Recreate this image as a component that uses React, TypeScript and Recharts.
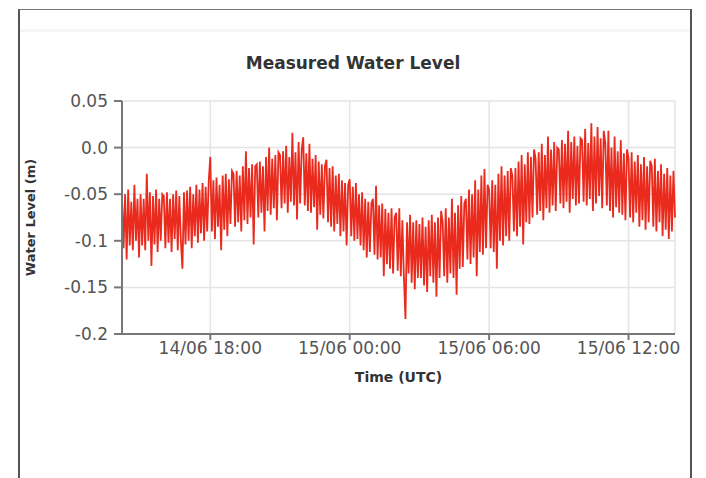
import { LineChart, Line, XAxis, YAxis, CartesianGrid } from 'recharts'

// hours since 14/06 00:00 UTC, one sample every 4 minutes
const startHour = 14.2
const stepHours = 1 / 15

const levels = [
  // 14:12 - 14:56
  -0.052, -0.108, -0.05, -0.12, -0.045, -0.105, -0.058, -0.11, -0.04, -0.1, -0.055, -0.118,
  // 15:00
  -0.05, -0.105, -0.055, -0.11, -0.028, -0.1, -0.048, -0.127, -0.052, -0.104, -0.045, -0.112, -0.055, -0.1, -0.05,
  // 16:00
  -0.052, -0.108, -0.048, -0.102, -0.055, -0.112, -0.05, -0.098, -0.046, -0.11, -0.052, -0.1, -0.13, -0.048, -0.104,
  // 17:00
  -0.046, -0.1, -0.042, -0.108, -0.05, -0.095, -0.04, -0.102, -0.045, -0.092, -0.038, -0.1, -0.042, -0.09, -0.036,
  // 18:00
  -0.01, -0.09, -0.035, -0.098, -0.032, -0.085, -0.04, -0.11, -0.03, -0.088, -0.028, -0.095, -0.034, -0.082, -0.025,
  // 19:00
  -0.028, -0.085, -0.025, -0.08, -0.03, -0.09, -0.02, -0.078, -0.004, -0.082, -0.022, -0.075, -0.018, -0.104, -0.02,
  // 20:00
  -0.018, -0.075, -0.015, -0.07, -0.02, -0.09, -0.01, -0.068, 0.0, -0.072, -0.012, -0.065, -0.008, -0.078, -0.005,
  // 21:00
  -0.008, -0.065, -0.004, -0.06, 0.002, -0.07, -0.01, -0.058, 0.016, -0.062, -0.005, -0.077, 0.006, -0.06, -0.002,
  // 22:00
  0.011, -0.062, -0.006, -0.068, 0.004, -0.07, -0.012, -0.064, -0.008, -0.088, -0.015, -0.072, -0.018, -0.076, -0.02,
  // 23:00
  -0.013, -0.08, -0.022, -0.085, -0.02, -0.09, -0.03, -0.082, -0.028, -0.095, -0.035, -0.09, -0.038, -0.105, -0.04,
  // 00:00
  -0.034, -0.095, -0.042, -0.1, -0.038, -0.098, -0.05, -0.105, -0.048, -0.11, -0.055, -0.118, -0.058, -0.112, -0.06,
  // 01:00
  -0.055, -0.115, -0.041, -0.12, -0.062, -0.118, -0.06, -0.138, -0.066, -0.125, -0.07, -0.13, -0.065, -0.135, -0.075,
  // 02:00
  -0.07, -0.132, -0.065, -0.138, -0.078, -0.14, -0.184, -0.08, -0.135, -0.072, -0.145, -0.08, -0.152, -0.078, -0.14,
  // 03:00
  -0.082, -0.14, -0.075, -0.148, -0.085, -0.155, -0.078, -0.138, -0.072, -0.145, -0.08, -0.16, -0.075, -0.14, -0.068,
  // 04:00
  -0.08, -0.138, -0.065, -0.145, -0.075, -0.135, -0.055, -0.14, -0.07, -0.158, -0.062, -0.13, -0.052, -0.128, -0.06,
  // 05:00
  -0.055, -0.12, -0.045, -0.125, -0.05, -0.118, -0.035, -0.138, -0.045, -0.112, -0.03, -0.115, -0.023, -0.108, -0.04,
  // 06:00
  -0.045, -0.108, -0.035, -0.112, -0.04, -0.13, -0.028, -0.1, -0.02, -0.105, -0.03, -0.095, -0.025, -0.1, -0.022,
  // 07:00
  -0.03, -0.09, -0.022, -0.095, -0.015, -0.085, -0.008, -0.104, -0.018, -0.08, -0.005, -0.082, -0.01, -0.075, -0.002,
  // 08:00
  -0.012, -0.072, -0.005, -0.068, 0.004, -0.078, -0.008, -0.065, 0.012, -0.07, -0.002, -0.062, 0.006, -0.068, 0.0,
  // 09:00
  -0.002, -0.06, 0.008, -0.065, 0.004, -0.058, 0.018, -0.07, 0.006, -0.055, 0.012, -0.062, 0.002, -0.06, 0.01,
  // 10:00
  0.008, -0.058, 0.02, -0.062, 0.005, -0.055, 0.026, -0.068, 0.012, -0.06, 0.022, -0.052, 0.01, -0.065, 0.018,
  // 11:00
  0.005, -0.062, 0.018, -0.068, 0.0, -0.075, 0.012, -0.064, -0.004, -0.07, 0.008, -0.072, -0.006, -0.078, -0.002,
  // 12:00
  -0.012, -0.075, -0.005, -0.08, -0.015, -0.07, -0.008, -0.085, -0.018, -0.078, -0.01, -0.088, -0.02, -0.08, -0.014,
  // 13:00
  -0.02, -0.085, -0.012, -0.09, -0.025, -0.08, -0.018, -0.095, -0.028, -0.088, -0.022, -0.098, -0.03, -0.09, -0.025,
  // 14:00
  -0.075,
]

const timeTicks = [18, 24, 30, 36]
const timeLabels = ['14/06 18:00', '15/06 00:00', '15/06 06:00', '15/06 12:00']
const levelTicks = [-0.2, -0.15, -0.1, -0.05, 0, 0.05]
const levelLabels = ['-0.2', '-0.15', '-0.1', '-0.05', '0.0', '0.05']

const data = levels.map((level, i) => ({ t: startHour + i * stepHours, level }))

const font = '"DejaVu Sans", Verdana, sans-serif'
const tickStyle = { fontSize: 17, fill: '#555', fontFamily: font }

export default function App() {
  return (
    <div style={{ position: 'absolute', left: 0, top: 0, width: 706, height: 478, background: '#fff', overflow: 'hidden' }}>
      <div
        style={{
          position: 'absolute',
          left: 18,
          top: 9,
          width: 674,
          height: 500,
          boxSizing: 'border-box',
          border: '2px solid #555',
          borderTopWidth: 1.5,
          borderTopColor: '#777',
        }}
      />
      {/* faint header separator */}
      <div style={{ position: 'absolute', left: 20, top: 29, width: 670, height: 3, background: '#f6f6f6' }} />
      <div
        style={{
          position: 'absolute',
          left: 0,
          top: 52,
          width: 706,
          lineHeight: '22px',
          textAlign: 'center',
          fontFamily: font,
          fontWeight: 'bold',
          fontSize: 17,
          color: '#333',
        }}
      >
        Measured Water Level
      </div>
      <div style={{ position: 'absolute', left: 0, top: 0 }}>
        <LineChart width={706} height={478} data={data} margin={{ top: 101, right: 31, bottom: 94, left: 22 }}>
          <CartesianGrid stroke="#e4e4e4" strokeWidth={1.5} />
          <XAxis
            dataKey="t"
            type="number"
            domain={[14.2, 38.0]}
            ticks={timeTicks}
            tickFormatter={(v: number) => timeLabels[timeTicks.indexOf(v)]}
            tick={tickStyle}
            tickSize={6}
            tickMargin={2}
            height={50}
            stroke="#777"
            strokeWidth={2}
            label={{ value: 'Time (UTC)', position: 'insideBottom', offset: 2, style: { fontSize: 14, fontWeight: 'bold', fill: '#333', fontFamily: font } }}
          />
          <YAxis
            type="number"
            domain={[-0.2, 0.05]}
            ticks={levelTicks}
            tickFormatter={(v: number) => levelLabels[levelTicks.indexOf(v)]}
            tick={tickStyle}
            tickSize={8}
            tickMargin={6}
            width={100}
            stroke="#777"
            strokeWidth={2}
            label={{ value: 'Water Level (m)', angle: -90, position: 'insideLeft', offset: 8, style: { fontSize: 13, fontWeight: 'bold', fill: '#333', fontFamily: font, textAnchor: 'middle' } }}
          />
          <Line type="linear" dataKey="level" stroke="#e92a1d" strokeWidth={1.8} dot={false} isAnimationActive={false} />
        </LineChart>
      </div>
    </div>
  )
}
